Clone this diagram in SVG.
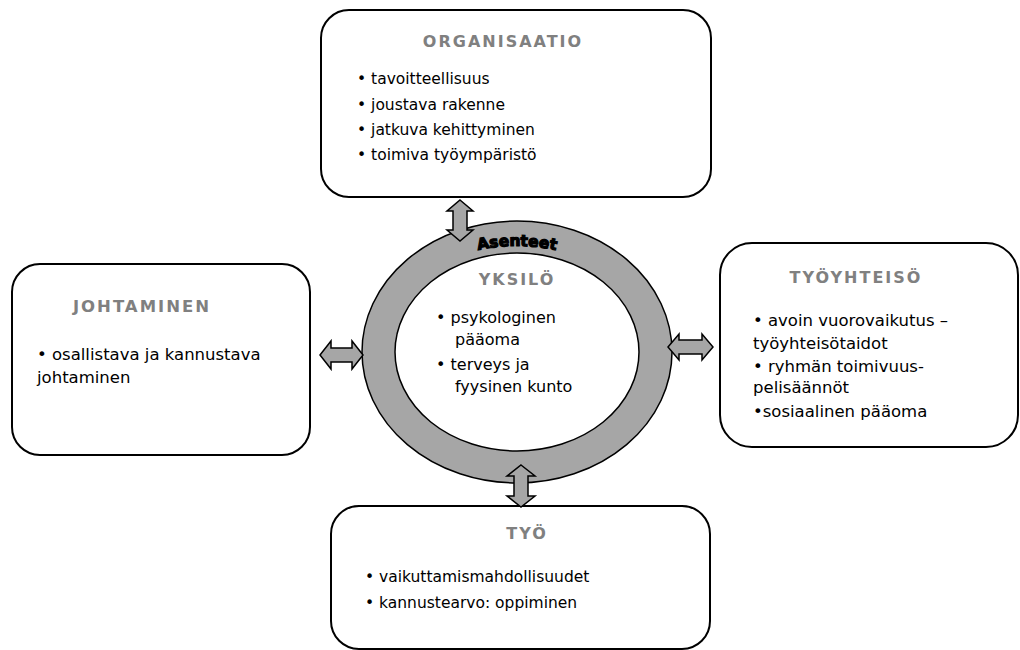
<svg xmlns="http://www.w3.org/2000/svg" width="1020" height="650" viewBox="0 0 1020 650">
<defs>
<style>
.box{fill:#fff;stroke:#000;stroke-width:2}
.ttl{font-family:"DejaVu Sans",sans-serif;font-weight:bold;font-size:16px;fill:#808080;letter-spacing:2px;text-anchor:middle}
.txt{font-family:"DejaVu Sans",sans-serif;font-size:15.5px;fill:#000}
.big{font-size:16.5px}
.mid{font-size:16px}
.arr{fill:#a6a6a6;stroke:#000;stroke-width:1.5;stroke-linejoin:miter}
.ring{fill:#a6a6a6;fill-rule:evenodd;stroke:#000;stroke-width:1.5}
.ase{font-family:"DejaVu Sans",sans-serif;font-weight:bold;font-size:15.5px;fill:#000;stroke:#000;stroke-width:1.2;text-anchor:middle}
</style>
<path id="arc" d="M 377 352 A 140 106 0 0 1 657 352"/>
</defs>
<rect width="1020" height="650" fill="#fff"/>

<g id="ring">
<path class="ring" d="M 362 352 A 155 131 0 1 0 672 352 A 155 131 0 1 0 362 352 Z M 395 352 A 122 99 0 1 1 639 352 A 122 99 0 1 1 395 352 Z"/>
<text class="ase"><textPath href="#arc" startOffset="50%">Asenteet</textPath></text>
</g>

<g id="yksilo">
<text class="ttl" x="517" y="285">YKSILÖ</text>
<text class="txt mid" x="436" y="323">• psykologinen</text>
<text class="txt mid" x="455" y="345">pääoma</text>
<text class="txt mid" x="436" y="370">• terveys ja</text>
<text class="txt mid" x="455" y="392">fyysinen kunto</text>
</g>

<g id="organisaatio">
<rect class="box" x="321" y="10" width="390" height="187" rx="28"/>
<text class="ttl" x="503" y="47">ORGANISAATIO</text>
<text class="txt" x="357" y="84">• tavoitteellisuus</text>
<text class="txt" x="357" y="110">• joustava rakenne</text>
<text class="txt" x="357" y="135">• jatkuva kehittyminen</text>
<text class="txt" x="357" y="160">• toimiva työympäristö</text>
</g>

<g id="johtaminen">
<rect class="box" x="12" y="264" width="298" height="191" rx="28"/>
<text class="ttl big" x="142" y="312">JOHTAMINEN</text>
<text class="txt big" x="37" y="360">• osallistava ja kannustava</text>
<text class="txt big" x="37" y="383">johtaminen</text>
</g>

<g id="tyoyhteiso">
<rect class="box" x="720" y="243" width="298" height="204" rx="32"/>
<text class="ttl" x="856" y="283">TYÖYHTEISÖ</text>
<text class="txt big" x="753" y="326">• avoin vuorovaikutus –</text>
<text class="txt big" x="753" y="349">työyhteisötaidot</text>
<text class="txt big" x="753" y="372">• ryhmän toimivuus-</text>
<text class="txt big" x="753" y="393">pelisäännöt</text>
<text class="txt big" x="753" y="417">•sosiaalinen pääoma</text>
</g>

<g id="tyo">
<rect class="box" x="331" y="506" width="379" height="143" rx="28"/>
<text class="ttl" x="527" y="539">TYÖ</text>
<text class="txt" x="365" y="582">• vaikuttamismahdollisuudet</text>
<text class="txt" x="365" y="608">• kannustearvo: oppiminen</text>
</g>

<g id="connectors">
<path class="arr" d="M 460 200 L 473 211 L 467 211 L 467 230 L 473 230 L 460 241 L 447 230 L 453 230 L 453 211 L 447 211 Z"/>
<path class="arr" d="M 320 355 L 331 341 L 331 348 L 352 348 L 352 341 L 363 355 L 352 369 L 352 362 L 331 362 L 331 369 Z"/>
<path class="arr" d="M 668 347 L 679 334 L 679 340 L 702 340 L 702 334 L 713 347 L 702 360 L 702 354 L 679 354 L 679 360 Z"/>
<path class="arr" d="M 521 465 L 535 476 L 528 476 L 528 496 L 535 496 L 521 507 L 507 496 L 514 496 L 514 476 L 507 476 Z"/>
</g>
</svg>
